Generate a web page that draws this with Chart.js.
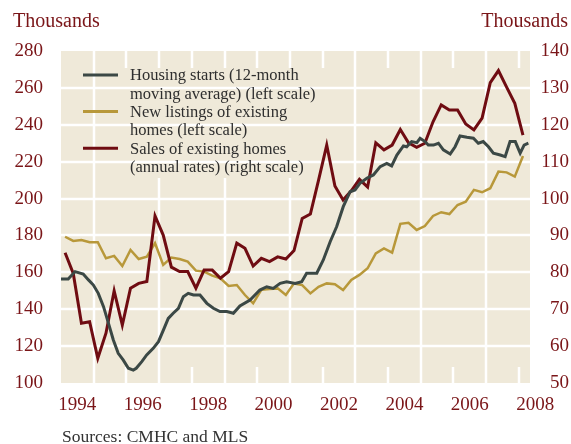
<!DOCTYPE html>
<html><head><meta charset="utf-8">
<script src="https://cdn.jsdelivr.net/npm/chart.js@4/dist/chart.umd.min.js"></script>
<style>html,body{margin:0;padding:0;background:#fff}#wrap{width:571px;height:444px;position:relative}</style>
</head><body><div id="wrap"><canvas id="c" width="571" height="444"></canvas></div>
<script>
// ---- data ----
const quarterLabels = ['1994Q1','1994Q2','1994Q3','1994Q4','1995Q1','1995Q2','1995Q3','1995Q4',
 '1996Q1','1996Q2','1996Q3','1996Q4','1997Q1','1997Q2','1997Q3','1997Q4',
 '1998Q1','1998Q2','1998Q3','1998Q4','1999Q1','1999Q2','1999Q3','1999Q4',
 '2000Q1','2000Q2','2000Q3','2000Q4','2001Q1','2001Q2','2001Q3','2001Q4',
 '2002Q1','2002Q2','2002Q3','2002Q4','2003Q1','2003Q2','2003Q3','2003Q4',
 '2004Q1','2004Q2','2004Q3','2004Q4','2005Q1','2005Q2','2005Q3','2005Q4',
 '2006Q1','2006Q2','2006Q3','2006Q4','2007Q1','2007Q2','2007Q3','2007Q4','2008Q1'];
// Sales of existing homes (annual rates, thousands) – right scale
const salesValues = [85.3,79.7,66.2,66.6, 56.7,63.5,75,65.7, 75.7,77,77.5,95.3, 90.1,81.4,80.2,80.2,
 75.7,80.6,80.6,78.4, 80.2,87.9,86.5,81.7, 83.8,82.9,84.2,83.6, 85.9,94.6,95.8,105,
 114.5,103.4,99.6,102.1, 105.2,103.1,115.1,113.2, 114.5,118.7,115.1,113.9, 115,120.8,125.4,124,
 124,120.2,118.6,121.8, 131.4,134.7,130.2,125.8, 117.2];
// New listings of existing homes (thousands) – left scale
const listingsValues = [179.3,177,177.5,176.3, 176.3,167.6,168.9,163.4, 172.1,167.2,168.5,175.8, 164,168,167.2,165.8,
 160.9,160.4,158.2,156.8, 152.6,153.1,147.7,143.2, 150.5,151,151.3,147.7, 154,153.1,148.6,152.2,
 154,153.5,150.4,155.9, 158.6,162.2,170.3,173, 170.7,186.3,186.9,183, 185.1,190.6,192.6,191.6,
 196.5,198.3,204.7,203.4, 205.6,214.6,214.2,211.9, 223.1];
// Housing starts, 12-month moving average (thousands) – left scale
const startsDates = [1994.00,1994.22,1994.43,1994.68,1994.84,1994.99,1995.14,1995.30,1995.45,1995.60,1995.75,1995.90,
 1996.06,1996.21,1996.30,1996.47,1996.62,1996.82,1996.98,1997.13,1997.28,1997.43,1997.59,1997.74,1997.89,
 1998.05,1998.25,1998.46,1998.66,1998.86,1999.07,1999.27,1999.47,1999.78,2000.08,2000.29,2000.49,2000.70,2000.90,
 2001.16,2001.36,2001.51,2001.82,2002.02,2002.23,2002.43,2002.63,2002.84,2002.99,2003.14,2003.35,2003.55,2003.76,2003.96,
 2004.11,2004.27,2004.47,2004.57,2004.72,2004.88,2004.98,2005.13,2005.23,2005.39,2005.54,2005.69,2005.90,
 2006.05,2006.20,2006.41,2006.61,2006.76,2006.91,2007.07,2007.22,2007.43,2007.58,2007.73,2007.89,2008.04,2008.16,2008.29];
const startsValues = [156.4,156.4,160.4,159.1,155.9,153.1,148.6,141.4,132.5,123.3,116.1,112.5,
 108,107,108,111.6,115.2,118.8,122.4,128.7,135,137.8,140.5,146.8,148.6,
 147.7,147.7,143.2,140.5,138.7,138.7,137.8,141.8,145,150.4,152.2,151.3,154,154.9,
 154,154.9,159.5,159.5,166.7,176.6,184.8,195.6,203.7,204.7,208.3,211,212.8,217.3,219.1,
 217.7,223.6,228.5,228.1,230.9,230.3,232.7,230.9,229,229,230,226.4,224.2,
 228.1,233.9,233.2,232.7,230,230.9,228.1,224.6,223.6,222.7,230.9,230.9,224.6,229,230];
const xTickYears = [1994,1996,1998,2000,2002,2004,2006,2008];
const gridYears = [1995,1996,1997,1998,1999,2000,2001,2002,2003,2004,2005,2006,2007,2008];
const leftTicks = [100,120,140,160,180,200,220,240,260,280];
const seriesNames = ['Housing starts (12-month moving average) (left scale)',
 'New listings of existing homes (left scale)',
 'Sales of existing homes (annual rates) (right scale)'];
const legendLines = [['Housing starts (12-month','moving average) (left scale)'],
 ['New listings of existing','homes (left scale)'],
 ['Sales of existing homes','(annual rates) (right scale)']];
const axisTitle = 'Thousands';
const sourceText = 'Sources: CMHC and MLS';

// ---- style ----
const RED_TXT = '#7a1518';
const BEIGE = '#efe9d9';
const C_START = '#3b4845', C_LIST = '#b8983a', C_SALES = '#6f0c12';
const SERIF = "'Liberation Serif', 'DejaVu Serif', serif";
const LEG = {x0: 100, x1: 335, y0: 68, y1: 178};

const qx = q => parseInt(q.slice(0,4)) + (parseInt(q.slice(5)) - 1) * 0.25 + 0.125;

const bgPlugin = {
  id: 'bg',
  beforeDraw(chart) {
    const {ctx, chartArea: a, scales} = chart;
    const x = scales.x, y = scales.y;
    ctx.save();
    ctx.fillStyle = BEIGE;
    ctx.fillRect(a.left, a.top, a.right - a.left, a.bottom - a.top);
    ctx.strokeStyle = '#ffffff';
    ctx.lineWidth = 2.5;
    const vline = (px, y0, y1) => { ctx.beginPath(); ctx.moveTo(px, y0); ctx.lineTo(px, y1); ctx.stroke(); };
    gridYears.forEach(yr => {
      const px = Math.round(x.getPixelForValue(yr));
      if (yr % 2 === 1) {
        if (px > LEG.x0 && px < LEG.x1) { vline(px, a.top, LEG.y0); vline(px, LEG.y1, a.bottom); }
        else vline(px, a.top, a.bottom);
      } else {
        vline(px, a.top, a.top + 17);
        vline(px, a.bottom - 16, a.bottom);
      }
    });
    leftTicks.forEach(v => {
      if (v === 100 || v === 280) return;
      const py = Math.round(y.getPixelForValue(v));
      ctx.beginPath(); ctx.moveTo(a.left, py); ctx.lineTo(a.right, py); ctx.stroke();
    });
    ctx.restore();
  },
  afterDraw(chart) {
    const {ctx} = chart;
    ctx.save();
    ctx.font = '20px ' + SERIF;
    ctx.fillStyle = RED_TXT;
    ctx.textBaseline = 'alphabetic';
    ctx.textAlign = 'left';
    ctx.fillText(axisTitle, 13, 27);
    ctx.textAlign = 'right';
    ctx.fillText(axisTitle, 568, 27);
    ctx.font = '17.5px ' + SERIF;
    ctx.fillStyle = '#333333';
    ctx.textAlign = 'left';
    ctx.fillText(sourceText, 62, 442);
    // legend
    const colors = [C_START, C_LIST, C_SALES];
    ctx.font = '16.5px ' + SERIF;
    ctx.textBaseline = 'middle';
    let ly = 76;
    legendLines.forEach((lines, i) => {
      ctx.strokeStyle = colors[i];
      ctx.lineWidth = 3;
      ctx.beginPath(); ctx.moveTo(83, ly - 1); ctx.lineTo(118, ly - 1); ctx.stroke();
      ctx.fillStyle = '#2e2e2e';
      lines.forEach(t => { ctx.fillText(t, 130, ly); ly += 18.3; });
    });
    ctx.restore();
  }
};

const tickFont = {family: SERIF, size: 19};

new Chart(document.getElementById('c'), {
  type: 'line',
  data: {
    datasets: [
      {label: seriesNames[0], data: startsDates.map((d, i) => ({x: d, y: startsValues[i]})), yAxisID: 'y',
       borderColor: C_START, borderWidth: 3, pointRadius: 0, tension: 0, order: 0},
      {label: seriesNames[2], data: quarterLabels.map((q, i) => ({x: qx(q), y: salesValues[i]})), yAxisID: 'y1',
       borderColor: C_SALES, borderWidth: 3, pointRadius: 0, tension: 0, order: 1},
      {label: seriesNames[1], data: quarterLabels.map((q, i) => ({x: qx(q), y: listingsValues[i]})), yAxisID: 'y',
       borderColor: C_LIST, borderWidth: 2.5, pointRadius: 0, tension: 0, order: 2}
    ]
  },
  options: {
    responsive: false, animation: false, devicePixelRatio: 1,
    layout: {padding: {top: 51, right: 2, left: 0, bottom: 0}},
    plugins: {legend: {display: false}, tooltip: {enabled: false}},
    scales: {
      x: {type: 'linear', min: 1994, max: 2008.34,
          grid: {display: false, drawTicks: false, tickLength: 0}, border: {display: false},
          afterBuildTicks(s) { s.ticks = xTickYears.map(v => ({value: v + 0.5})); },
          ticks: {callback: v => String(Math.floor(v)), font: tickFont, color: RED_TXT, padding: 11,
                  maxRotation: 0, autoSkip: false},
          afterFit(s) { s.height = 61; }},
      y: {position: 'left', min: 100, max: 280,
          grid: {display: false, drawTicks: false, tickLength: 0}, border: {display: false},
          afterBuildTicks(s) { s.ticks = leftTicks.map(v => ({value: v})); },
          ticks: {font: tickFont, color: RED_TXT, padding: 18},
          afterFit(s) { s.width = 61; }},
      y1: {position: 'right', min: 50, max: 140,
          grid: {display: false, drawTicks: false, tickLength: 0}, border: {display: false},
          ticks: {stepSize: 10, font: tickFont, color: RED_TXT, padding: 8, crossAlign: 'far'},
          afterFit(s) { s.width = 39; }}
    }
  },
  plugins: [bgPlugin]
});
</script></body></html>
